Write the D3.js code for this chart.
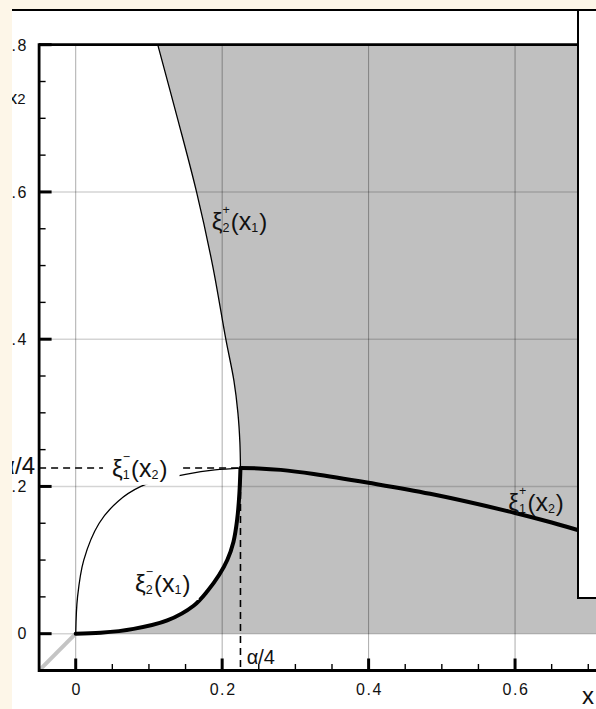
<!DOCTYPE html>
<html><head><meta charset="utf-8">
<script src="https://cdn.jsdelivr.net/npm/d3@7"></script>
<style>html,body{margin:0;padding:0;background:#fdf6e8;overflow:hidden} svg{display:block;}</style>
</head><body>
<svg id="c" width="596" height="709"></svg>
<script>
// ---------- data ----------
const xTickValues = [0, 0.2, 0.4, 0.6];
const xTickLabels = ["0", "0.2", "0.4", "0.6"];
const yTickValues = [0, 0.2, 0.4, 0.6, 0.8];
const yTickLabels = ["0", "0.2", "0.4", "0.6", "0.8"];
const alphaQuarter = 0.225;               // α/4
// ξ2+(x1): points [x1, x2]
const xi2Plus = [[0.112,0.8],[0.139,0.7],[0.165,0.6],[0.187,0.5],[0.205,0.4],[0.216,0.344],[0.2215,0.3],[0.2242,0.26],[0.225,0.225]];
// ξ2-(x1)
const xi2Minus = [[0,0],[0.034,0.0012],[0.079,0.0065],[0.125,0.018],[0.161,0.038],[0.18,0.058],[0.196,0.08],[0.207,0.1],[0.2155,0.125],[0.2205,0.155],[0.2235,0.19],[0.225,0.225]];
// ξ1-(x2)
const xi1Minus = [[0,0],[0.0025,0.05],[0.011,0.1],[0.032,0.15],[0.058,0.18],[0.089,0.2],[0.12,0.21],[0.15,0.2165],[0.19,0.2225],[0.225,0.225]];
// ξ1+(x2)
const xi1Plus = [[0.225,0.225],[0.25,0.2245],[0.28,0.2225],[0.325,0.217],[0.4,0.205],[0.484,0.19],[0.6,0.164],[0.65,0.151],[0.7,0.1365]];
const diagonal = [[-0.05,-0.05],[0,0]];

// ---------- layout ----------
const W = 596, H = 709;
const svg = d3.select("#c");
const x = d3.scaleLinear().domain([-0.05, 0.8]).range([39.1, 661.5]);
const y = d3.scaleLinear().domain([-0.05, 0.8]).range([670.5, 44.7]);
const FONT = "'Liberation Sans', Arial, Helvetica, sans-serif";
svg.attr("font-family", FONT);

svg.append("rect").attr("x", 12).attr("y", 10).attr("width", W).attr("height", H).attr("fill", "#fff");

svg.append("clipPath").attr("id", "plotclip").append("rect")
  .attr("x", x(-0.05)).attr("y", y(0.8)).attr("width", x(0.8) - x(-0.05)).attr("height", y(-0.05) - y(0.8));
const plot = svg.append("g").attr("clip-path", "url(#plotclip)");

const line = d3.line().x(d => x(d[0])).y(d => y(d[1])).curve(d3.curveCatmullRom.alpha(0.5));

// gray region
const p1 = line(xi2Plus);
const p2 = line(xi2Minus.slice().reverse()).replace(/^M/, "L");
const regionPath = p1 + p2 + `L${x(0.8)},${y(0)}L${x(0.8)},${y(0.8)}Z`;
plot.append("path").attr("d", regionPath).attr("fill", "#c0c0c0");

// grid
const gridX = xTickValues.concat([0.8]);
plot.selectAll(".gx").data(gridX).join("line")
  .attr("x1", d => x(d)).attr("x2", d => x(d)).attr("y1", y(-0.05)).attr("y2", y(0.8))
  .attr("stroke", "#000").attr("stroke-opacity", 0.33).attr("stroke-width", 1);
plot.selectAll(".gy").data(yTickValues).join("line")
  .attr("y1", d => y(d)).attr("y2", d => y(d)).attr("x1", x(-0.05)).attr("x2", x(0.8))
  .attr("stroke", "#000").attr("stroke-opacity", 0.17).attr("stroke-width", 1.6);

// diagonal
plot.append("path").attr("d", d3.line().x(d => x(d[0])).y(d => y(d[1]))(diagonal))
  .attr("stroke", "#c4c4c4").attr("stroke-width", 4).attr("fill", "none");

// curves
plot.append("path").attr("d", line(xi2Plus)).attr("fill", "none").attr("stroke", "#000").attr("stroke-width", 1.3);
plot.append("path").attr("d", line(xi1Minus)).attr("fill", "none").attr("stroke", "#000").attr("stroke-width", 1.3);

// dashed α/4 lines
plot.append("line").attr("x1", x(-0.05)).attr("x2", x(alphaQuarter)).attr("y1", y(alphaQuarter)).attr("y2", y(alphaQuarter))
  .attr("stroke", "#000").attr("stroke-width", 1.6).attr("stroke-dasharray", "7,5");
plot.append("line").attr("x1", x(alphaQuarter)).attr("x2", x(alphaQuarter)).attr("y1", y(alphaQuarter)).attr("y2", y(-0.05))
  .attr("stroke", "#000").attr("stroke-width", 1.6).attr("stroke-dasharray", "7,5");

plot.append("path").attr("d", line(xi2Minus)).attr("fill", "none").attr("stroke", "#000").attr("stroke-width", 4).attr("stroke-linecap", "round");
plot.append("path").attr("d", line(xi1Plus)).attr("fill", "none").attr("stroke", "#000").attr("stroke-width", 4);

// labels
function xiLabel(px, py, sub, sup, arg, fs, bg, padL, padR) {
  const g = svg.append("g");
  const t = g.append("text").attr("x", px).attr("y", py).attr("font-size", fs).attr("fill", "#111");
  const s = 12.5;
  t.append("tspan").text("ξ");
  t.append("tspan").attr("font-size", s).attr("dy", 2).text(sub);
  t.append("tspan").attr("font-size", s).attr("dx", -s * 0.556).attr("dy", -18).text(sup);
  t.append("tspan").attr("dy", 16).attr("dx", 1).text("(");
  t.append("tspan").attr("font-size", fs + 1).text("x");
  t.append("tspan").attr("font-size", s).attr("dy", 2).text(arg);
  t.append("tspan").attr("dy", -2).attr("dx", 1).text(")");
  if (bg) {
    const b = t.node().getBBox();
    g.insert("rect", "text").attr("x", b.x - padL).attr("y", b.y + 3).attr("width", b.width + padL + padR).attr("height", b.height).attr("fill", "#fff");
  }
}
const labelFS = 24;
xiLabel(x(0.1857), y(0.548), "2", "+", "1", labelFS, false);
xiLabel(x(0.0496), y(0.213), "1", "−", "2", labelFS, true, 9, 12);
xiLabel(x(0.081), y(0.0566), "2", "−", "1", labelFS, true, 2, 8);
xiLabel(x(0.5908), y(0.1667), "1", "+", "2", labelFS, false);

svg.append("text").attr("x", x(0.2335)).attr("y", y(-0.0412)).attr("font-size", 20).attr("fill", "#111").text("α/4");
svg.append("text").attr("x", 35).attr("y", 473.5).attr("text-anchor", "end").attr("font-size", 24).attr("fill", "#111").text("α/4");

// frame
svg.append("line").attr("x1", x(-0.05)).attr("x2", x(0.8)).attr("y1", y(0.8)).attr("y2", y(0.8)).attr("stroke", "#000").attr("stroke-width", 2.8);
svg.append("line").attr("x1", x(-0.05)).attr("x2", x(-0.05)).attr("y1", y(0.8) - 1.4).attr("y2", y(-0.05) + 1.4).attr("stroke", "#000").attr("stroke-width", 2.8);
svg.append("line").attr("x1", x(-0.05)).attr("x2", x(0.8)).attr("y1", y(-0.05)).attr("y2", y(-0.05)).attr("stroke", "#000").attr("stroke-width", 2.8);

// ticks
const minor = d3.range(0, 0.8001, 0.05).filter(v => !yTickValues.some(m => Math.abs(m - v) < 1e-6));
const tickG = svg.append("g").attr("stroke", "#000");
tickG.selectAll(".xM").data(gridX).join("line").attr("x1", d => x(d)).attr("x2", d => x(d)).attr("y1", y(-0.05)).attr("y2", y(-0.05) - 12).attr("stroke-width", 3);
tickG.selectAll(".xm").data(minor).join("line").attr("x1", d => x(d)).attr("x2", d => x(d)).attr("y1", y(-0.05)).attr("y2", y(-0.05) - 6.5).attr("stroke-width", 1.4);
tickG.selectAll(".yM").data(yTickValues).join("line").attr("y1", d => y(d)).attr("y2", d => y(d)).attr("x1", x(-0.05)).attr("x2", x(-0.05) + 12.5).attr("stroke-width", 3);
tickG.selectAll(".ym").data(minor).join("line").attr("y1", d => y(d)).attr("y2", d => y(d)).attr("x1", x(-0.05)).attr("x2", x(-0.05) + 6.5).attr("stroke-width", 1.4);

// tick labels
svg.append("g").selectAll("text").data(xTickValues).join("text")
  .attr("x", d => x(d) + 1).attr("y", 695).attr("text-anchor", "middle").attr("font-size", 16).attr("letter-spacing", 1.6).attr("fill", "#111")
  .text((d, i) => xTickLabels[i]);
svg.append("g").selectAll("text").data(yTickValues).join("text")
  .attr("x", 28).attr("y", d => y(d) + 5.8).attr("text-anchor", "end").attr("font-size", 16).attr("letter-spacing", 1.6).attr("fill", "#111")
  .text((d, i) => yTickLabels[i]);

// axis titles
const yt = svg.append("text").attr("x", 25.5).attr("y", 103.5).attr("text-anchor", "end").attr("font-size", 19).attr("fill", "#111");
yt.append("tspan").text("x");
yt.append("tspan").attr("font-size", 15).text("2");
svg.append("text").attr("x", 582).attr("y", 703.5).attr("font-size", 24).attr("fill", "#111").text("x");

// overlay box at right, outer top rule
svg.append("rect").attr("x", 578).attr("y", 10).attr("width", 40).attr("height", 588).attr("fill", "#fff").attr("stroke", "#000").attr("stroke-width", 2);
svg.append("line").attr("x1", 12).attr("x2", 578).attr("y1", 10).attr("y2", 10).attr("stroke", "#000").attr("stroke-width", 2);

// page margins (crop edges)
svg.append("rect").attr("x", 0).attr("y", 0).attr("width", 12).attr("height", H).attr("fill", "#fdf6e8");
svg.append("rect").attr("x", 0).attr("y", 0).attr("width", W).attr("height", 9).attr("fill", "#fdf6e8");
</script>
</body></html>
